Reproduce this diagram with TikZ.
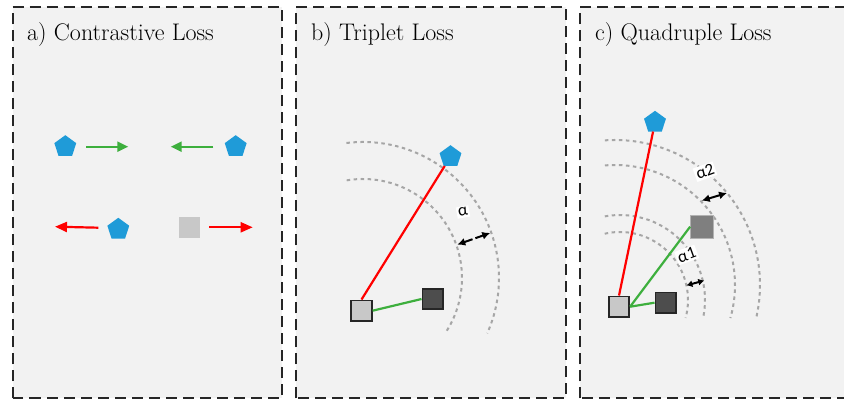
\documentclass[tikz,border=0pt]{standalone}
\usepackage{fontspec}
\newfontfamily\tagfont{Carlito}
\usepackage{tikz}
\usetikzlibrary{arrows.meta,shapes.geometric,calc}

\definecolor{pentblue}{HTML}{1F9BD8}
\definecolor{posgreen}{HTML}{3DAF3D}
\definecolor{negred}{HTML}{FF0000}
\definecolor{panelbg}{HTML}{F2F2F2}
\definecolor{arcgray}{HTML}{A6A6A6}
\definecolor{lightsq}{HTML}{C8C8C8}
\definecolor{darksq}{HTML}{4D4D4D}
\definecolor{midsq}{HTML}{7F7F7F}
\definecolor{framegray}{HTML}{262626}

\tikzset{
  panel/.style={draw=framegray, fill=panelbg, line width=2pt, dash pattern=on 11pt off 6pt},
  title/.style={anchor=base west, inner sep=0pt, font=\fontsize{24}{28}\selectfont},
  pent/.style={regular polygon, regular polygon sides=5, fill=pentblue, minimum size=23pt, inner sep=0pt, outer sep=0pt},
  ancbox/.style={draw=framegray, fill=lightsq, line width=1.8pt, minimum size=20.5pt, inner sep=0pt},
  negbox/.style={draw=framegray, fill=darksq, line width=1.8pt, minimum size=20.5pt, inner sep=0pt},
  midbox/.style={draw=gray!60, fill=midsq, line width=0.6pt, minimum size=22.5pt, inner sep=0pt},
  ring/.style={arcgray, line width=2pt, dash pattern=on 3.5pt off 3.5pt},
  pull/.style={posgreen, line width=2.2pt, -{Triangle[length=11pt,width=10pt]}},
  push/.style={negred, line width=2.2pt, -{Triangle[length=12pt,width=10pt]}},
  posline/.style={posgreen, line width=2.2pt},
  negline/.style={negred, line width=2.2pt},
  margin/.style={line width=2pt, {Latex[length=8pt,width=8pt]}-{Latex[length=8pt,width=8pt]}},
  tag/.style={fill=white, inner sep=1.5pt, font=\tagfont\fontsize{17}{19}\selectfont},
}

\begin{document}
\begin{tikzpicture}[x=1pt,y=1pt]
\useasboundingbox (0,0) rectangle (844,401);

% panels
\draw[panel] (12.5,2.5) rectangle (281.5,393.5);
\draw[panel] (296,2.5) rectangle (566,393.5);
\draw[panel] (580,2.5) rectangle (850,393.5);
\node[title] (tA) at (27,360) {a) Contrastive Loss};
\node[title] (tB) at (311,360) {b) Triplet Loss};
\node[title] (tC) at (595,360) {c) Quadruple Loss};

% a)
\node[pent] (pA1) at (65.3,254.3) {};
\node[pent] (pA2) at (235.7,254.3) {};
\node[pent] (pA3) at (118.3,171.7) {};
\node[fill=lightsq, minimum size=21.5pt, inner sep=0pt] (sqA) at (189.3,173.7) {};
\coordinate (gA1s) at (86,254.3);
\coordinate (gA1e) at (128.3,254.3);
\coordinate (gA2s) at (213.3,254.3);
\coordinate (gA2e) at (170.7,254.3);
\coordinate (rA1s) at (98.3,173.3);
\coordinate (rA1e) at (55,174.3);
\coordinate (rA2s) at (209.3,173.7);
\coordinate (rA2e) at (252.7,173.7);
\draw[pull] (gA1s) -- (gA1e);
\draw[pull] (gA2s) -- (gA2e);
\draw[push] (rA1s) -- (rA1e);
\draw[push] (rA2s) -- (rA2e);

% b)
\coordinate (Cb) at (363,123);
\draw[ring] (Cb) ++(97:136) arc[start angle=97, end angle=-24, radius=136];
\draw[ring] (Cb) ++(99.5:99) arc[start angle=99.5, end angle=-34, radius=99];
\node[ancbox] (aB) at (361.5,90.3) {};
\node[negbox] (nB) at (432.7,102) {};
\node[pent] (pB) at (450.5,244.3) {};
\draw[negline] (aB.north) -- (pB);
\draw[posline] (aB.east) -- (nB.west);
\coordinate (mB1) at ($(Cb)+(19.5:100)$);
\coordinate (mB2) at ($(Cb)+(19.5:135)$);
\draw[margin, dash pattern=on 9pt off 3pt on 40pt] (mB1) -- (mB2);
\node[tag, rotate=10] (alB) at (463,189) {α};

% c)
\coordinate (Co) at (615,116);
\coordinate (Ci) at (620,101);
\draw[ring] (Co) ++(94:145) arc[start angle=94, end angle=-13.7, radius=145];
\draw[ring] (Co) ++(94.8:120) arc[start angle=94.8, end angle=-16, radius=120];
\draw[ring] (Ci) ++(100.3:85) arc[start angle=100.3, end angle=-12.4, radius=85];
\draw[ring] (Ci) ++(103:68) arc[start angle=103, end angle=-15.3, radius=68];
\node[ancbox] (aC) at (619,94.3) {};
\node[negbox] (nC) at (665.7,98.3) {};
\node[midbox] (mC) at (701.7,174.3) {};
\node[pent] (pC) at (655,278.7) {};
\draw[negline] (aC.north) -- (pC);
\draw[posline] (aC.east) -- (mC.west);
\draw[posline] (aC.east) -- (nC.west);
\coordinate (mC1) at ($(Co)+(44.2:121)$);
\coordinate (mC2) at ($(Co)+(39.4:145)$);
\coordinate (mC3) at ($(Ci)+(12.4:68)$);
\coordinate (mC4) at ($(Ci)+(13:86.5)$);
\draw[margin] (mC1) -- (mC2);
\draw[margin, {Latex[length=6pt,width=7pt]}-{Latex[length=6pt,width=7pt]}] (mC3) -- (mC4);
\node[tag, rotate=20] (alC2) at (705,229.3) {α2};
\node[tag, rotate=20] (alC1) at (686.7,146) {α1};
\end{tikzpicture}
\end{document}
